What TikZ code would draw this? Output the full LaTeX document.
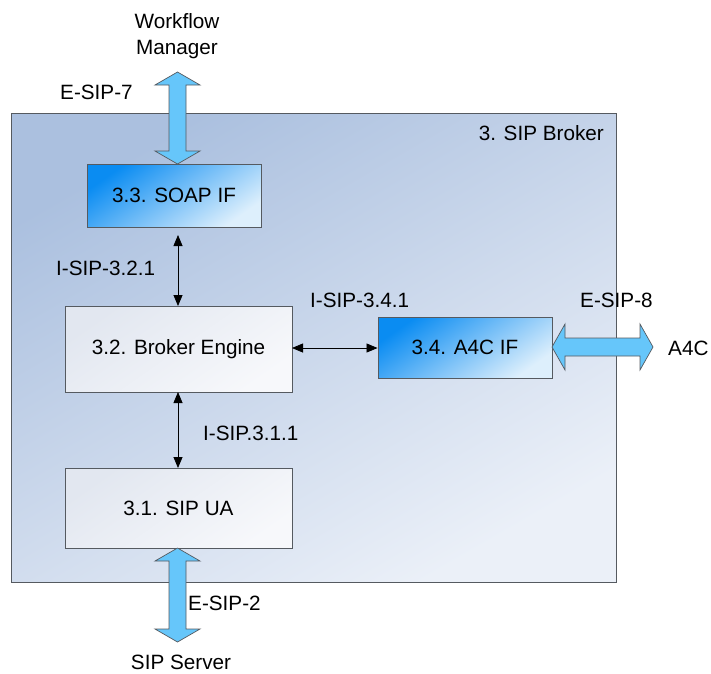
\documentclass[tikz,border=0pt]{standalone}
\usepackage{fontspec}
\setmainfont{Liberation Sans}
\usetikzlibrary{arrows.meta,calc}

\definecolor{frameTL}{HTML}{ABC0DF}
\definecolor{frameBR}{HTML}{EBF0F8}
\definecolor{ifDark}{HTML}{0A8CF2}
\definecolor{ifMid}{HTML}{2C9DF4}
\definecolor{ifLight}{HTML}{DDEFFC}
\definecolor{boxTL}{HTML}{E2E7F0}
\definecolor{boxBR}{HTML}{F7F8FB}
\definecolor{fatBlue}{HTML}{66C6FA}
\definecolor{edge}{HTML}{555A60}

\tikzset{
  txt/.style={font=\fontsize{20.7}{24}\selectfont, inner sep=0pt},
  frame/.style={draw=edge, line width=1pt, shading=axis, top color=frameTL,
    bottom color=frameBR, shading angle=30},
  ifbox/.style={draw=edge, line width=0.9pt, shading=axis, top color=ifDark,
    middle color=ifMid, bottom color=ifLight, shading angle=35,
    txt, align=center},
  corebox/.style={draw=edge, line width=0.9pt, shading=axis, top color=boxTL,
    bottom color=boxBR, shading angle=35, txt, align=center},
  link/.style={line width=0.8pt, {Triangle[length=11pt,width=9pt]}-{Triangle[length=11pt,width=9pt]}},
  fat/.style={fill=fatBlue, draw=edge, line width=0.7pt, line join=miter},
}

% vertical block arrow between two named points (first one above)
\newcommand\fatV[2]{%
  \path[fat] let \p1=(#1), \p2=(#2) in
    (\x1,\y1) -- (\x1+22.5pt,\y1-13pt) -- (\x1+8.5pt,\y1-13pt)
    -- (\x1+8.5pt,\y2+13pt) -- (\x1+22.5pt,\y2+13pt) -- (\x1,\y2)
    -- (\x1-22.5pt,\y2+13pt) -- (\x1-8.5pt,\y2+13pt)
    -- (\x1-8.5pt,\y1-13pt) -- (\x1-22.5pt,\y1-13pt) -- cycle;}
% horizontal block arrow between two named points (first one left)
\newcommand\fatH[2]{%
  \path[fat] let \p1=(#1), \p2=(#2) in
    (\x1,\y1) -- (\x1+13pt,\y1+23pt) -- (\x1+13pt,\y1+9pt)
    -- (\x2-13pt,\y1+9pt) -- (\x2-13pt,\y1+23pt) -- (\x2,\y1)
    -- (\x2-13pt,\y1-23pt) -- (\x2-13pt,\y1-9pt)
    -- (\x1+13pt,\y1-9pt) -- (\x1+13pt,\y1-23pt) -- cycle;}

\begin{document}
\begin{tikzpicture}[x=1pt,y=-1pt]
  \useasboundingbox (0,0) rectangle (711,673);

  % outer component
  \node[frame, minimum width=605pt, minimum height=469pt] (broker) at (313.5,347.5) {};
  \node[txt, anchor=east] (brokerlbl) at (604,133) {3. SIP Broker};

  % inner components
  \node[ifbox, minimum width=174pt, minimum height=63pt] (soap) at (174,195.5) {3.3. SOAP IF};
  \node[corebox, minimum width=227pt, minimum height=86pt] (engine) at (178.5,349) {3.2. Broker Engine};
  \node[ifbox, minimum width=174pt, minimum height=61pt] (a4cif) at (465,347.5) {3.4. A4C IF};
  \node[corebox, minimum width=227pt, minimum height=80pt] (ua) at (178.5,508) {3.1. SIP UA};

  % external parties
  \node[txt, align=center] (wfm) at (177,36) {Workflow\\[2pt]Manager};
  \node[txt, anchor=west] (a4c) at (668,348) {A4C};
  \node[txt] (sipsrv) at (181,662) {SIP Server};

  % internal interfaces
  \coordinate (soapS) at (178,235);
  \coordinate (engN) at (178,306);
  \coordinate (engS) at (178,392);
  \coordinate (uaN) at (178,468);
  \coordinate (engE) at (292,348);
  \draw[link] (soapS) -- (engN);
  \draw[link] (engS) -- (uaN);
  \draw[link] (engE) -- (engE -| a4cif.west);

  % external interfaces
  \coordinate (topA) at (177.5,72);
  \coordinate (topB) at (177.5,164);
  \fatV{topA}{topB}
  \coordinate (botA) at (177.5,548);
  \coordinate (botB) at (177.5,642);
  \fatV{botA}{botB}
  \coordinate (rA) at (552,347);
  \coordinate (rB) at (653,347);
  \fatH{rA}{rB}

  % interface labels
  \node[txt, anchor=west] (l7) at (60,92) {E-SIP-7};
  \node[txt, anchor=west] (l321) at (56,268) {I-SIP-3.2.1};
  \node[txt, anchor=west] (l341) at (310,300) {I-SIP-3.4.1};
  \node[txt, anchor=west] (l8) at (580,300) {E-SIP-8};
  \node[txt, anchor=west] (l311) at (203,433) {I-SIP.3.1.1};
  \node[txt, anchor=west] (l2) at (188,603) {E-SIP-2};
\end{tikzpicture}
\end{document}
